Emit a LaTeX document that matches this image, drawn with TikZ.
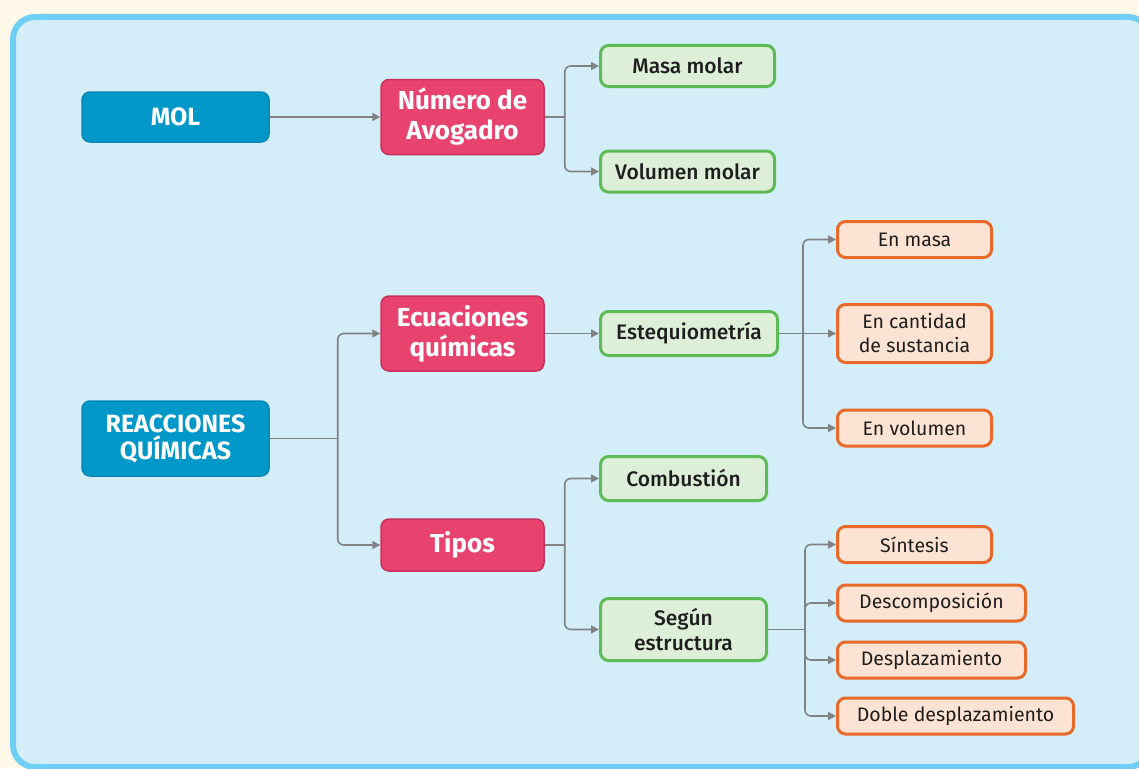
\documentclass[tikz,border=0pt]{standalone}
\usepackage{fontspec}
\setmainfont{Fira Sans}
\newfontfamily\medfont{Fira Sans Medium}
\usetikzlibrary{arrows.meta,calc}
\definecolor{outbg}{HTML}{FFF9E9}
\definecolor{panel}{HTML}{D3EEF9}
\definecolor{panelline}{HTML}{6FCFF5}
\definecolor{bluef}{HTML}{0098C9}
\definecolor{blued}{HTML}{0787B5}
\definecolor{pinkf}{HTML}{E8426F}
\definecolor{pinkd}{HTML}{C8325A}
\definecolor{greenl}{HTML}{5DBB55}
\definecolor{greenf}{HTML}{DDEFD8}
\definecolor{orangel}{HTML}{E8692A}
\definecolor{orangef}{HTML}{FDE3D3}
\definecolor{conn}{HTML}{808284}
\definecolor{txt}{HTML}{1E1E1E}
\tikzset{
  box/.style={rounded corners=8pt, inner sep=0pt, align=center, anchor=center},
  bluebox/.style={box, fill=bluef, draw=blued, line width=1.5pt, text=white,
     font=\fontsize{25}{27}\selectfont\bfseries},
  pinkbox/.style={box, fill=pinkf, draw=pinkd, line width=1.5pt, text=white,
     font=\fontsize{26}{30}\selectfont\bfseries},
  greenbox/.style={box, fill=greenf, draw=greenl, line width=3pt, text=txt,
     font=\fontsize{21}{25}\selectfont\medfont},
  orangebox/.style={box, fill=orangef, draw=orangel, line width=3pt, text=txt,
     font=\fontsize{19.5}{24}\selectfont},
  arr/.style={draw=conn, line width=1.6pt, rounded corners=6pt,
     -{Triangle[length=8pt,width=8pt]}},
  ln/.style={draw=conn, line width=1.6pt},
}
\begin{document}
\begin{tikzpicture}[x=1pt,y=-1pt]
\useasboundingbox (0,0) rectangle (1139,768);
\fill[outbg] (0,0) rectangle (1139,768);
\draw[fill=panel, draw=panelline, line width=6pt, rounded corners=22pt] (13,17) rectangle (1150,767);

% nodes
\node[bluebox, minimum width=187pt, minimum height=50pt] (mol) at (175.5,117) {MOL};
\node[pinkbox, minimum width=163pt, minimum height=75pt] (num) at (462.5,117) {Número de\\Avogadro};
\node[greenbox, minimum width=174pt, minimum height=41pt] (masa) at (687.5,66) {Masa molar};
\node[greenbox, minimum width=174pt, minimum height=41pt] (vol) at (687.5,171.5) {Volumen molar};

\node[bluebox, minimum width=187pt, minimum height=75pt] (reac) at (175.5,438.5) {REACCIONES\\QUÍMICAS};
\node[pinkbox, minimum width=163pt, minimum height=75pt] (ecu) at (462.5,333.5) {Ecuaciones\\químicas};
\node[pinkbox, minimum width=163pt, minimum height=52pt] (tipos) at (462.5,545) {Tipos};
\node[greenbox, minimum width=177pt, minimum height=44pt] (este) at (689,333.5) {Estequiometría};
\node[orangebox, minimum width=154pt, minimum height=36pt] (enmasa) at (914.5,239.5) {En masa};
\node[orangebox, minimum width=154pt, minimum height=58pt] (encant) at (914.5,333.5) {En cantidad\\de sustancia};
\node[orangebox, minimum width=154pt, minimum height=36pt] (envol) at (914.5,428) {En volumen};
\node[greenbox, minimum width=166pt, minimum height=44pt] (comb) at (683.5,478.5) {Combustión};
\node[greenbox, minimum width=166pt, minimum height=62pt] (segun) at (683.5,629.5) {Según\\estructura};
\node[orangebox, minimum width=154pt, minimum height=36pt] (sint) at (914.5,544.5) {Síntesis};
\node[orangebox, minimum width=188pt, minimum height=36pt] (desc) at (931.5,603) {Descomposición};
\node[orangebox, minimum width=188pt, minimum height=36pt] (despl) at (931.5,660) {Desplazamiento};
\node[orangebox, minimum width=236pt, minimum height=36pt] (doble) at (955.5,716) {Doble desplazamiento};

% junctions
\coordinate (jnum) at ($(num.east)+(20,0)$);
\coordinate (jreac) at ($(reac.east)+(68,0)$);
\coordinate (jeste) at ($(este.east)+(24,0)$);
\coordinate (jtipos) at ($(tipos.east)+(20,0)$);
\coordinate (jsegun) at ($(segun.east)+(37,0)$);

% connectors
\draw[arr] (mol.east) -- (num.west);

\draw[ln] (num.east) -- (jnum);
\draw[arr] (jnum) |- (masa.west);
\draw[arr] (jnum) |- (vol.west);

\draw[ln] (reac.east) -- (jreac);
\draw[arr] (jreac) |- (ecu.west);
\draw[arr] (jreac) |- (tipos.west);

\draw[arr] (ecu.east) -- (este.west);

\draw[arr] (este.east) -- (encant.west);
\draw[arr] (jeste) |- (enmasa.west);
\draw[arr] (jeste) |- (envol.west);

\draw[ln] (tipos.east) -- (jtipos);
\draw[arr] (jtipos) |- (comb.west);
\draw[arr] (jtipos) |- (segun.west);

\draw[ln] (segun.east) -- (jsegun);
\draw[arr] (jsegun) |- (sint.west);
\draw[arr] (jsegun) |- (desc.west);
\draw[arr] (jsegun) |- (despl.west);
\draw[arr] (jsegun) |- (doble.west);
\end{tikzpicture}
\end{document}
